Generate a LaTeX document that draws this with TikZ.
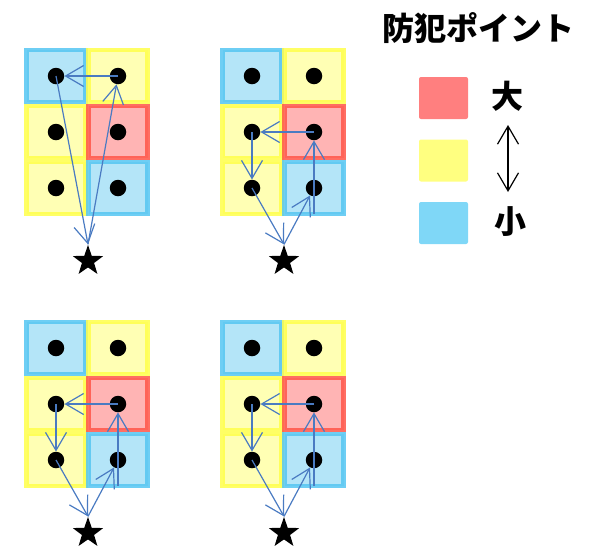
\documentclass[tikz,border=0pt]{standalone}
\usepackage{fontspec}
\newfontfamily\cjk{Noto Sans CJK JP}
\usetikzlibrary{arrows.meta,shapes.geometric}
\definecolor{bfill}{HTML}{B4E5F8}
\definecolor{bdraw}{HTML}{55C6F2}
\definecolor{yfill}{HTML}{FFFFB4}
\definecolor{ydraw}{HTML}{FFFF4A}
\definecolor{rfill}{HTML}{FFB4B4}
\definecolor{rdraw}{HTML}{FF5548}
\definecolor{routec}{HTML}{4A7BC2}
\definecolor{legr}{HTML}{FF7F7F}
\definecolor{legy}{HTML}{FFFF80}
\definecolor{legb}{HTML}{7FD7F7}
\tikzset{
  cellbase/.style={rectangle, minimum width=59pt, minimum height=52pt, inner sep=0pt, line width=4.5pt, draw opacity=0.85},
  bcell/.style={cellbase, fill=bfill, draw=bdraw},
  ycell/.style={cellbase, fill=yfill, draw=ydraw},
  rcell/.style={cellbase, fill=rfill, draw=rdraw},
  dot/.style={circle, fill=black, minimum size=16.5pt, inner sep=0pt},
  starnode/.style={star, star points=5, star point ratio=2.5, minimum size=32pt, inner sep=0pt, fill=black},
  route/.style={draw=routec, line width=1.2pt, -{Straight Barb[length=18pt,width=21pt]}},
  legbox/.style={rectangle, rounded corners=2pt, minimum width=49pt, minimum height=42pt, inner sep=0pt},
  cjkbig/.style={font=\cjk\bfseries\fontsize{32}{36}\selectfont, inner sep=0pt}
}
\newcommand\cellgrid[3]{%
  \node[bcell] (#1c11) at ({#2},{#3}) {};
  \node[ycell] (#1c12) at ({#2+62},{#3}) {};
  \node[ycell] (#1c21) at ({#2},{#3+56}) {};
  \node[ycell] (#1c31) at ({#2},{#3+112}) {};
  \node[bcell] (#1c32) at ({#2+62},{#3+112}) {};
  \node[rcell] (#1c22) at ({#2+62},{#3+56}) {};
  \node[dot] (#1tl) at ({#2},{#3}) {};
  \node[dot] (#1tr) at ({#2+62},{#3}) {};
  \node[dot] (#1ml) at ({#2},{#3+56}) {};
  \node[dot] (#1mr) at ({#2+62},{#3+56}) {};
  \node[dot] (#1bl) at ({#2},{#3+112}) {};
  \node[dot] (#1br) at ({#2+62},{#3+112}) {};
  \node[starnode] (#1st) at ({#2+32},{#3+185}) {};
  \coordinate (#1bel) at ({#2+62},{#3+138});
}
\newcommand\routeA[1]{%
  \draw[route] (#1tr.center) -- (#1tl);
  \draw[route] (#1tl.center) -- (#1st.north);
  \draw[route] (#1st.north) -- (#1tr);
}
\newcommand\routeB[1]{%
  \draw[route] (#1st.north) -- (#1br);
  \draw[route] (#1bel) -- (#1mr);
  \draw[route] (#1mr.center) -- (#1ml);
  \draw[route] (#1ml.center) -- (#1bl);
  \draw[route] (#1bl.center) -- (#1st.north);
}
\begin{document}
\begin{tikzpicture}[x=1pt,y=-1pt]
\useasboundingbox (0,0) rectangle (592,547);
\cellgrid{g1}{56}{76}
\cellgrid{g2}{252}{76}
\cellgrid{g3}{56}{348}
\cellgrid{g4}{252}{348}
\routeA{g1}
\routeB{g2}
\routeB{g3}
\routeB{g4}
% legend
\node[cjkbig] (title) at (478,28) {防犯ポイント};
\node[legbox, fill=legr] (lr) at (443.5,98) {};
\node[legbox, fill=legy] (ly) at (443.5,160.5) {};
\node[legbox, fill=legb] (lb) at (443.5,223) {};
\node[cjkbig] (big) at (507,96) {大};
\node[cjkbig] (small) at (510,222) {小};
\coordinate (ua) at (508,125);
\coordinate (da) at (508,192);
\draw[line width=1.2pt, {Straight Barb[length=18pt,width=21pt]}-{Straight Barb[length=18pt,width=21pt]}] (ua) -- (da);
\end{tikzpicture}
\end{document}
